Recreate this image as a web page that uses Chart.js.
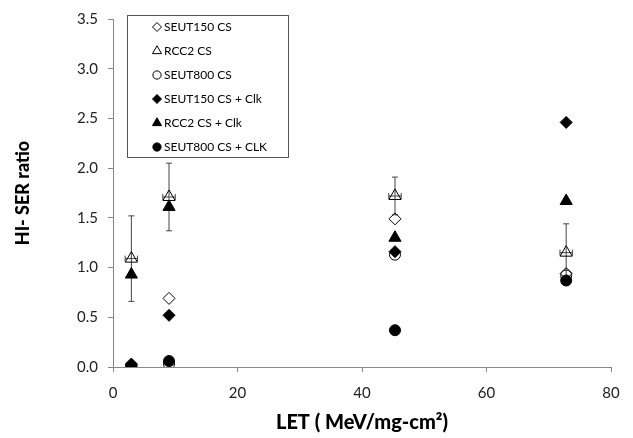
<!DOCTYPE html>
<html>
<head>
<meta charset="utf-8">
<script src="https://cdn.jsdelivr.net/npm/chart.js@4.4.0/dist/chart.umd.min.js"></script>
<style>
  body { margin: 0; background: #fff; }
  #wrap { width: 633px; height: 438px; position: relative; }
</style>
</head>
<body>
<div id="wrap"><canvas id="myChart"></canvas></div>
<script>
// LET values (MeV/mg-cm2) for the four ions
const letValues = [2.95, 9.0, 45.3, 72.8];

// HI-SER ratio per series
const seut150 = [0.02, 0.69, 1.49, 0.94];
const rcc2 = [1.09, 1.71, 1.72, 1.15];
const seut800 = [0.01, 0.03, 1.13, 0.92];
const seut150Clk = [0.03, 0.52, 1.16, 2.46];
const rcc2Clk = [0.93, 1.61, 1.30, 1.67];
const seut800Clk = [0.0, 0.06, 0.37, 0.87];

// error bars on RCC2 CS
const rcc2ErrY = [0.43, 0.34, 0.19, 0.29];
const rcc2ErrX = [1.0, 1.0, 1.0, 1.0];

const yTicks = [0, 0.5, 1, 1.5, 2, 2.5, 3, 3.5];
const xTicks = [0, 20, 40, 60, 80];

function toPoints(ys) {
  return letValues.map((x, i) => ({ x: x, y: ys[i] }));
}

const openStyle = { backgroundColor: "rgba(0,0,0,0)", borderColor: "#000", borderWidth: 1 };
const fillStyle = { backgroundColor: "#000", borderColor: "#000", borderWidth: 1 };

const datasets = [
  { label: "SEUT150 CS", data: toPoints(seut150), pointStyle: "rectRot", pointRadius: 6, ...openStyle },
  { label: "RCC2 CS", data: toPoints(rcc2), pointStyle: "triangle", pointRadius: 7, ...openStyle },
  { label: "SEUT800 CS", data: toPoints(seut800), pointStyle: "circle", pointRadius: 5.5, ...openStyle },
  { label: "SEUT150 CS + Clk", data: toPoints(seut150Clk), pointStyle: "rectRot", pointRadius: 6, ...fillStyle },
  { label: "RCC2 CS + Clk", data: toPoints(rcc2Clk), pointStyle: "triangle", pointRadius: 7, ...fillStyle },
  { label: "SEUT800 CS + CLK", data: toPoints(seut800Clk), pointStyle: "circle", pointRadius: 5.5, ...fillStyle }
];

const errorBars = {
  id: "errorBars",
  beforeDatasetsDraw(chart) {
    const ctx = chart.ctx;
    const xs = chart.scales.x;
    const ys = chart.scales.y;
    ctx.save();
    ctx.strokeStyle = "#444";
    ctx.lineWidth = 1;
    letValues.forEach((lx, i) => {
      const px = xs.getPixelForValue(lx);
      const py = ys.getPixelForValue(rcc2[i]);
      const top = ys.getPixelForValue(rcc2[i] + rcc2ErrY[i]);
      const bot = ys.getPixelForValue(rcc2[i] - rcc2ErrY[i]);
      const left = xs.getPixelForValue(lx - rcc2ErrX[i]);
      const right = xs.getPixelForValue(lx + rcc2ErrX[i]);
      ctx.beginPath();
      ctx.moveTo(px, top); ctx.lineTo(px, bot);
      ctx.moveTo(px - 3, top); ctx.lineTo(px + 3, top);
      ctx.moveTo(px - 3, bot); ctx.lineTo(px + 3, bot);
      ctx.moveTo(left, py); ctx.lineTo(right, py);
      ctx.moveTo(left, py - 3); ctx.lineTo(left, py + 3);
      ctx.moveTo(right, py - 3); ctx.lineTo(right, py + 3);
      ctx.stroke();
    });
    ctx.restore();
  }
};

const boxLegend = {
  id: "boxLegend",
  afterDraw(chart) {
    const ctx = chart.ctx;
    const bx = 127, by = 15, bw = 161, bh = 142;
    ctx.save();
    ctx.fillStyle = "#fff";
    ctx.fillRect(bx, by, bw, bh);
    ctx.strokeStyle = "#555";
    ctx.lineWidth = 1;
    ctx.strokeRect(bx + 0.5, by + 0.5, bw, bh);
    ctx.font = "12px Lato";
    ctx.textBaseline = "middle";
    chart.data.datasets.forEach((ds, i) => {
      const y = by + 12 + i * 24;
      ctx.fillStyle = ds.backgroundColor;
      ctx.strokeStyle = ds.borderColor;
      ctx.lineWidth = 1;
      Chart.helpers.drawPoint(ctx, { pointStyle: ds.pointStyle, radius: ds.pointRadius * 0.75, borderWidth: 1 }, bx + 30, y);
      ctx.fillStyle = "#000";
      ctx.fillText(ds.label, bx + 37, y);
    });
    ctx.restore();
  }
};

new Chart(document.getElementById("myChart"), {
  type: "scatter",
  data: { datasets: datasets },
  plugins: [errorBars, boxLegend],
  options: {
    responsive: true,
    maintainAspectRatio: false,
    animation: false,
    layout: { padding: { left: 0, top: 17, right: 22, bottom: 0 } },
    plugins: {
      legend: { display: false },
      tooltip: { enabled: false }
    },
    scales: {
      x: {
        type: "linear",
        min: 0,
        max: 80,
        afterBuildTicks: (scale) => { scale.ticks = xTicks.map(v => ({ value: v })); },
        afterFit: (scale) => { scale.height = 71; },
        border: { color: "#888" },
        grid: { drawOnChartArea: false, color: "#888", tickLength: 5 },
        ticks: { color: "#222", font: { family: "Lato", size: 15 }, padding: 12 },
        title: {
          display: true,
          text: "LET ( MeV/mg-cm²)",
          color: "#000",
          font: { family: "Lato", size: 20, weight: "900" },
          padding: { top: 0, bottom: 3 }
        }
      },
      y: {
        type: "linear",
        min: 0,
        max: 3.5,
        afterBuildTicks: (scale) => { scale.ticks = yTicks.map(v => ({ value: v })); },
        afterFit: (scale) => { scale.width = 113; },
        border: { color: "#888" },
        grid: { drawOnChartArea: false, color: "#888", tickLength: 5 },
        ticks: { color: "#222", font: { family: "Lato", size: 15 }, padding: 10, callback: (v) => v.toFixed(1) },
        title: {
          display: true,
          text: "HI- SER ratio",
          color: "#000",
          font: { family: "Lato", size: 18, weight: "900" },
          padding: { top: 12, bottom: 0 }
        }
      }
    }
  }
});
</script>
</body>
</html>
